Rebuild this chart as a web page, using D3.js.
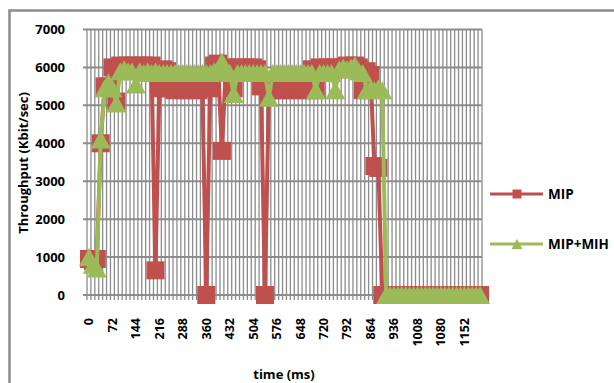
<!DOCTYPE html>
<html>
<head>
<meta charset="utf-8">
<script src="https://cdn.jsdelivr.net/npm/d3@7"></script>
<style>
  body { margin: 0; background: #fff; }
  svg text { font-family: "Open Sans", "Liberation Sans", sans-serif; font-weight: 700; fill: #000; }
</style>
</head>
<body>
<svg id="chart" width="614" height="383"></svg>
<script>
// time categories (ms), one every 12 ms
const times = d3.range(0, 1201, 12);
const tickLabels = [0, 72, 144, 216, 288, 360, 432, 504, 576, 648, 720, 792, 864, 936, 1008, 1080, 1152];
const yTicks = [0, 1000, 2000, 3000, 4000, 5000, 6000, 7000];

// MIP throughput (Kbit/sec)
const mip = [
  950, 900, 950, 4000, 5500, 5500, 6000, 5100, 6050, 6000,
  6050, 6000, 6050, 6000, 6050, 6000, 6050, 650, 5450, 5950,
  5900, 5450, 5400, 5450, 5400, 5450, 5400, 5450, 5400, 5450,
  0, 5450, 6050, 6100, 3800, 6000, 5900, 5450, 6000, 5950,
  6000, 5950, 6000, 5950, 5500, 0, 5400, 5450, 5400, 5450,
  5400, 5450, 5400, 5450, 5400, 5450, 5400, 5950, 5400, 6000,
  5950, 6000, 5950, 6000, 5950, 6000, 6050, 6000, 6050, 6000,
  5400, 5900, 5800, 3400, 3350, 0, 0, 0, 0, 0,
  0, 0, 0, 0, 0, 0, 0, 0, 0, 0,
  0, 0, 0, 0, 0, 0, 0, 0, 0, 0,
  0
];

// MIP+MIH throughput (Kbit/sec)
const mipMih = [
  1000, 800, 700, 4100, 5450, 5600, 5450, 5050, 5900, 5950,
  5900, 5900, 5550, 5900, 5850, 5900, 5850, 5900, 5850, 5850,
  5850, 5850, 5850, 5850, 5850, 5850, 5850, 5850, 5850, 5850,
  5850, 5850, 5900, 5950, 6150, 5900, 5850, 5300, 5850, 5850,
  5850, 5850, 5850, 5850, 5850, 5850, 5200, 5850, 5850, 5850,
  5850, 5850, 5850, 5850, 5850, 5850, 5850, 5850, 5400, 5850,
  5850, 5850, 5850, 5400, 5950, 6000, 5950, 6000, 6050, 5900,
  5850, 5400, 5450, 5400, 5450, 5400, 0, 0, 0, 0,
  0, 0, 0, 0, 0, 0, 0, 0, 0, 0,
  0, 0, 0, 0, 0, 0, 0, 0, 0, 0,
  0
];

const seriesNames = ["MIP", "MIP+MIH"];
const colors = ["#c0504d", "#9bbb59"];

const svg = d3.select("#chart");
const plotLeft = 87, plotRight = 482, plotTop = 29.5, plotBottom = 295;
const grid = "#8c8c8c";

// outer chart border
svg.append("rect")
  .attr("x", 9.5).attr("y", 10.5)
  .attr("width", 640).attr("height", 400)
  .attr("fill", "none").attr("stroke", grid).attr("stroke-width", 2.5);

const x = d3.scaleBand().domain(times).range([plotLeft, plotRight]);
const y = d3.scaleLinear().domain([0, 7000]).range([plotBottom, plotTop]);
const cx = d => x(d) + x.bandwidth() / 2;

// vertical gridlines at category edges, with tick marks below axis
const edges = times.map(t => x(t)).concat([plotRight]);
svg.append("g").selectAll("line").data(edges).join("line")
  .attr("x1", d => d).attr("x2", d => d)
  .attr("y1", plotTop).attr("y2", plotBottom + 5)
  .attr("stroke", grid).attr("stroke-width", 1.3);

// horizontal gridlines with y tick marks
svg.append("g").selectAll("line").data(yTicks).join("line")
  .attr("x1", plotLeft - 4).attr("x2", plotRight)
  .attr("y1", d => y(d)).attr("y2", d => y(d))
  .attr("stroke", grid).attr("stroke-width", 2);

// y axis labels
const yAxis = svg.append("g")
  .attr("transform", `translate(${plotLeft},0)`)
  .call(d3.axisLeft(y).tickValues(yTicks).tickFormat(d3.format("d")).tickSize(0).tickPadding(22));
yAxis.select(".domain").remove();
yAxis.selectAll("text").style("font-size", "13px");

// x axis labels (rotated)
const xAxis = svg.append("g")
  .attr("transform", `translate(0,${plotBottom})`)
  .call(d3.axisBottom(x).tickValues(tickLabels).tickSize(0));
xAxis.select(".domain").remove();
xAxis.selectAll("text")
  .style("font-size", "12.5px")
  .attr("transform", "rotate(-90)")
  .attr("text-anchor", "end")
  .attr("x", -23).attr("y", 0).attr("dy", "0.35em");

// axis titles
svg.append("text")
  .attr("transform", "translate(28,163) rotate(-90)")
  .attr("text-anchor", "middle")
  .style("font-size", "13px")
  .text("Throughput (Kbit/sec)");

svg.append("text")
  .attr("x", 284).attr("y", 379)
  .attr("text-anchor", "middle")
  .style("font-size", "13px")
  .text("time (ms)");

const line = d3.line().x((d, i) => cx(times[i])).y(d => y(d));

function square(s) {
  return `M${-s / 2},${-s / 2}h${s}v${s}h${-s}Z`;
}
function triangle(w, h) {
  return `M0,${-h / 2}L${w / 2},${h / 2}L${-w / 2},${h / 2}Z`;
}

const allSeries = [mip, mipMih];
const markers = [square(18), triangle(20, 18)];
const legendMarkers = [square(9), triangle(11, 10)];

allSeries.forEach((vals, k) => {
  const g = svg.append("g");
  g.append("path")
    .attr("d", line(vals))
    .attr("fill", "none")
    .attr("stroke", colors[k])
    .attr("stroke-width", 4)
    .attr("stroke-linejoin", "round");
  g.selectAll("path.m").data(vals).join("path")
    .attr("class", "m")
    .attr("d", markers[k])
    .attr("transform", (d, i) => `translate(${cx(times[i])},${y(d)})`)
    .attr("fill", colors[k]);
});

// legend
const legendY = [194, 244];
seriesNames.forEach((name, k) => {
  const g = svg.append("g").attr("transform", `translate(0,${legendY[k]})`);
  g.append("line")
    .attr("x1", 490).attr("x2", 543)
    .attr("stroke", colors[k]).attr("stroke-width", 3);
  g.append("path")
    .attr("d", legendMarkers[k])
    .attr("transform", "translate(517,0)")
    .attr("fill", colors[k]);
  g.append("text")
    .attr("x", 548).attr("dy", "0.35em")
    .style("font-size", "13.5px")
    .text(name);
});
</script>
</body>
</html>
